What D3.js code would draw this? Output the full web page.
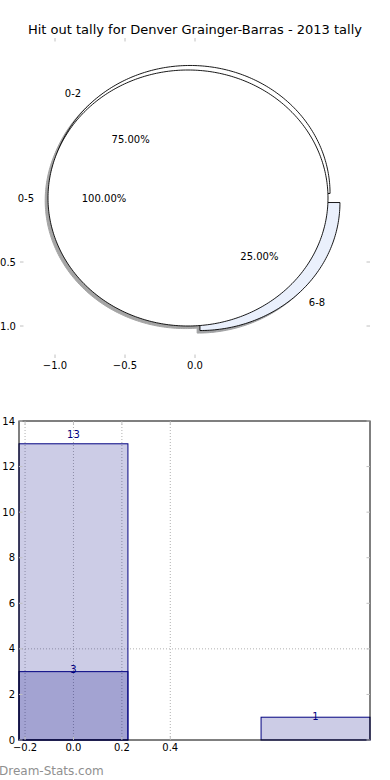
<!DOCTYPE html>
<html>
<head>
<meta charset="utf-8">
<script src="https://cdn.jsdelivr.net/npm/d3@7"></script>
<style>
  html,body{margin:0;padding:0;background:#fff;}
  svg{display:block;font-family:"DejaVu Sans",sans-serif;}
</style>
</head>
<body>
<div id="chart"></div>
<script>
// ── data ─────────────────────────────────────────
const TITLE = "Hit out tally for Denver Grainger-Barras - 2013 tally";

// pie drawn underneath
const backCats = ["0-2", "6-8"];
const backVals = [3, 1];
const backFill = ["#ffffff", "#eaf0fc"];
// pie drawn on top
const topCats = ["0-5"];
const topVals = [13];
const topFill = ["#ffffff"];

const pieXTicks = [-1.0, -0.5, 0.0];
const pieYTicks = [-0.5, -1.0];

// bars
const barPos = [0, 1];
const barTotals = [13, 1];
const subPos = [0];
const subVals = [3];
const barXTicks = [-0.2, 0.0, 0.2, 0.4];
const barYTicks = [0, 2, 4, 6, 8, 10, 12, 14];
const barYGrid = [4];

// ── setup ────────────────────────────────────────
const W = 390, H = 780;
const svg = d3.select("#chart").append("svg").attr("width", W).attr("height", H);

svg.append("text").attr("x", 195).attr("y", 34).attr("text-anchor", "middle")
  .attr("font-size", 13).attr("fill", "#000").text(TITLE);

// ════════════════════════════════════════════════
//  PIE
// ════════════════════════════════════════════════
const px = d3.scaleLinear().domain([-1.25, 1.25]).range([20, 370]);
const py = d3.scaleLinear().domain([-1.25, 1.25]).range([358, 38]);
const pg = svg.append("g");

const EXPLODE = 0.05, SHADOW = -0.02;
const pieGen = d3.pie().sort(null).startAngle(0).endAngle(2 * Math.PI);
const fmtPct = d => d3.format(".2f")(d) + "%";

function buildWedges(cats, vals, fills) {
  const tot = d3.sum(vals);
  return pieGen(vals).map((d, i) => {
    const mid = (d.startAngle + d.endAngle) / 2;
    return {
      cat: cats[i], fill: fills[i], a0: d.startAngle, a1: d.endAngle, mid,
      cx: EXPLODE * Math.cos(mid), cy: EXPLODE * Math.sin(mid),
      pct: vals[i] / tot * 100
    };
  });
}

// wedge outline in data units, mapped through px/py (axes aspect is not equal)
function wedgePath(w, dx, dy) {
  const full = w.a1 - w.a0 >= 2 * Math.PI - 1e-9;
  const n = Math.ceil((w.a1 - w.a0) / (Math.PI / 180));
  const pts = full ? [] : [[w.cx + dx, w.cy + dy]];
  for (let i = 0; i <= n; i++) {
    const a = w.a0 + (w.a1 - w.a0) * i / n;
    pts.push([w.cx + dx + Math.cos(a), w.cy + dy + Math.sin(a)]);
  }
  return d3.line().x(p => px(p[0])).y(p => py(p[1]))(pts) + "Z";
}

const back = buildWedges(backCats, backVals, backFill);
const front = buildWedges(topCats, topVals, topFill);
const all = back.concat(front);

// shadows go under every wedge
const shG = pg.append("g").attr("opacity", 0.5);
all.forEach(w => {
  const c = d3.rgb(w.fill);
  const sc = d3.rgb(c.r * 0.3, c.g * 0.3, c.b * 0.3);
  shG.append("path").attr("d", wedgePath(w, SHADOW, SHADOW))
    .attr("fill", sc).attr("stroke", sc).attr("stroke-width", 1);
});
all.forEach(w => {
  pg.append("path").attr("d", wedgePath(w, 0, 0))
    .attr("fill", w.fill).attr("stroke", "#000").attr("stroke-width", 0.9)
    .attr("stroke-linejoin", "miter");
});
all.forEach(w => {
  const lx = w.cx + 1.1 * Math.cos(w.mid), ly = w.cy + 1.1 * Math.sin(w.mid);
  pg.append("text").attr("x", px(lx)).attr("y", py(ly)).attr("dy", "0.35em")
    .attr("text-anchor", lx < 0 ? "end" : "start").attr("font-size", 10).text(w.cat);
  const tx = w.cx + 0.6 * Math.cos(w.mid), ty = w.cy + 0.6 * Math.sin(w.mid);
  pg.append("text").attr("x", px(tx)).attr("y", py(ty)).attr("dy", "0.35em")
    .attr("text-anchor", "middle").attr("font-size", 10).text(fmtPct(w.pct));
});

// pie ticks (frame hidden)
const TICK = "#c0c0c0";
pieXTicks.forEach(t => {
  pg.append("line").attr("x1", px(t)).attr("x2", px(t)).attr("y1", 38).attr("y2", 41.5).attr("stroke", TICK);
  pg.append("line").attr("x1", px(t)).attr("x2", px(t)).attr("y1", 358).attr("y2", 354.5).attr("stroke", TICK);
  pg.append("text").attr("x", px(t)).attr("y", 369).attr("text-anchor", "middle")
    .attr("font-size", 10).text(d3.format(".1f")(t).replace("-", "\u2212"));
});
pieYTicks.forEach(t => {
  pg.append("line").attr("x1", 20).attr("x2", 23.5).attr("y1", py(t)).attr("y2", py(t)).attr("stroke", TICK);
  pg.append("line").attr("x1", 370).attr("x2", 366.5).attr("y1", py(t)).attr("y2", py(t)).attr("stroke", TICK);
  pg.append("text").attr("x", 16).attr("y", py(t)).attr("dy", "0.35em").attr("text-anchor", "end")
    .attr("font-size", 10).text(d3.format(".1f")(t).replace("-", "\u2212"));
});

// ════════════════════════════════════════════════
//  BARS
// ════════════════════════════════════════════════
const BW = 0.45;
const bx = d3.scaleLinear().domain([-0.225, 1.225]).range([19, 370]);
const by = d3.scaleLinear().domain([0, 14]).range([740, 421]);
const bg = svg.append("g");

// grid
barXTicks.forEach(t => {
  bg.append("line").attr("x1", bx(t)).attr("x2", bx(t)).attr("y1", by(0)).attr("y2", by(14))
    .attr("stroke", "#b0b0b0").attr("stroke-dasharray", "1,2");
});
barYGrid.forEach(t => {
  bg.append("line").attr("x1", bx(-0.225)).attr("x2", bx(1.225)).attr("y1", by(t)).attr("y2", by(t))
    .attr("stroke", "#b0b0b0").attr("stroke-dasharray", "1,2");
});

function drawBars(pos, vals) {
  bg.selectAll(null).data(vals).join("rect")
    .attr("x", (d, i) => bx(pos[i] - BW / 2)).attr("width", bx(BW) - bx(0))
    .attr("y", d => by(d)).attr("height", d => by(0) - by(d))
    .attr("fill", "#000080").attr("fill-opacity", 0.2)
    .attr("stroke", "#000080").attr("stroke-width", 1);
  bg.selectAll(null).data(vals).join("text")
    .attr("x", (d, i) => bx(pos[i])).attr("y", d => by(d * 1.03)).attr("dy", "0.35em")
    .attr("text-anchor", "middle").attr("font-size", 10).attr("fill", "#000080")
    .text(d => d);
}
drawBars(barPos, barTotals);
drawBars(subPos, subVals);

// frame
bg.append("rect").attr("x", bx(-0.225)).attr("y", by(14))
  .attr("width", bx(1.225) - bx(-0.225)).attr("height", by(0) - by(14))
  .attr("fill", "none").attr("stroke", "#000").attr("stroke-width", 1);

// ticks
barXTicks.forEach(t => {
  bg.append("line").attr("x1", bx(t)).attr("x2", bx(t)).attr("y1", by(0)).attr("y2", by(0) - 3.5).attr("stroke", TICK);
  bg.append("line").attr("x1", bx(t)).attr("x2", bx(t)).attr("y1", by(14)).attr("y2", by(14) + 3.5).attr("stroke", TICK);
  bg.append("text").attr("x", bx(t)).attr("y", by(0) + 11).attr("text-anchor", "middle")
    .attr("font-size", 10).text(d3.format(".1f")(t).replace("-", "\u2212"));
});
barYTicks.forEach(t => {
  bg.append("line").attr("x1", bx(-0.225)).attr("x2", bx(-0.225) + 3.5).attr("y1", by(t)).attr("y2", by(t)).attr("stroke", TICK);
  bg.append("line").attr("x1", bx(1.225)).attr("x2", bx(1.225) - 3.5).attr("y1", by(t)).attr("y2", by(t)).attr("stroke", TICK);
  bg.append("text").attr("x", 15).attr("y", by(t)).attr("dy", "0.35em").attr("text-anchor", "end")
    .attr("font-size", 10).text(t);
});

// watermark
svg.append("text").attr("x", -1).attr("y", 775).attr("font-size", 12)
  .attr("fill", "#909090").text("Dream-Stats.com");
</script>
</body>
</html>
